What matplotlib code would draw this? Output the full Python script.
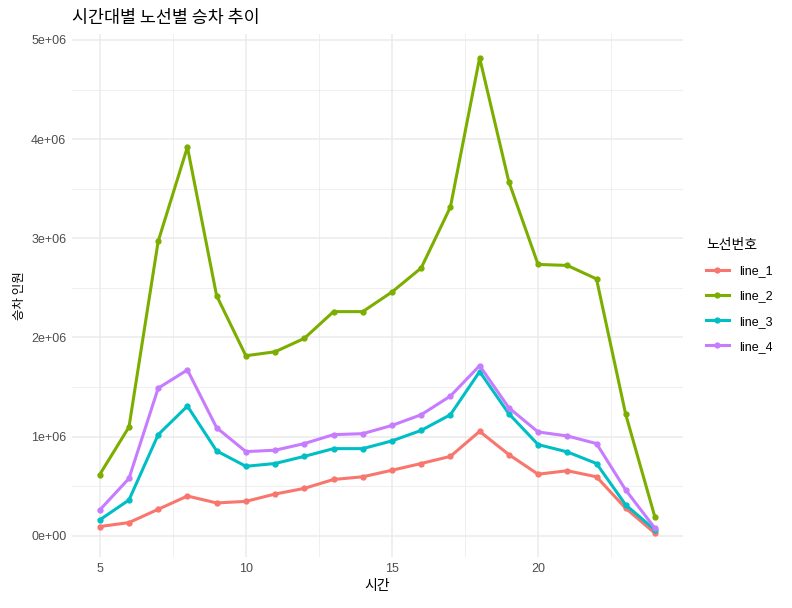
import matplotlib.pyplot as plt
from matplotlib.ticker import FixedLocator, FuncFormatter

plt.rcParams['font.family'] = ['Noto Sans CJK KR', 'DejaVu Sans']

hours = list(range(5, 25))
line_1 = [92000, 132000, 266000, 400000, 330000, 346000, 420000, 477000, 567000, 594000,
          660000, 728000, 800000, 1052000, 818000, 620000, 655000, 594000, 276000, 25000]
line_2 = [617000, 1096000, 2970000, 3920000, 2420000, 1815000, 1855000, 1990000, 2260000, 2260000,
          2458000, 2700000, 3315000, 4820000, 3570000, 2736000, 2726000, 2590000, 1223000, 186000]
line_3 = [159000, 360000, 1019000, 1307000, 855000, 700000, 728000, 800000, 878000, 878000,
          956000, 1062000, 1220000, 1655000, 1230000, 919000, 845000, 728000, 310000, 58000]
line_4 = [259000, 577000, 1488000, 1672000, 1089000, 848000, 862000, 929000, 1019000, 1029000,
          1112000, 1220000, 1408000, 1715000, 1290000, 1046000, 1006000, 929000, 460000, 75000]

names = ['line_1', 'line_2', 'line_3', 'line_4']
colors = ['#F8766D', '#7CAE00', '#00BFC4', '#C77CFF']
series = [line_1, line_2, line_3, line_4]

fig = plt.figure(figsize=(7.92, 6.08), dpi=100)
ax = fig.add_axes([0.0909, 0.0839, 0.862 - 0.0909, 0.944 - 0.0839])

for name, col, vals in zip(names, colors, series):
    ax.plot(hours, vals, color=col, linewidth=2.2, marker='o', markersize=3.5, label=name)

ax.set_xlim(4.05, 24.95)
ax.set_ylim(-0.215e6, 5.06e6)

ax.xaxis.set_major_locator(FixedLocator([5, 10, 15, 20]))
ax.xaxis.set_minor_locator(FixedLocator([7.5, 12.5, 17.5, 22.5]))
ax.yaxis.set_major_locator(FixedLocator([0, 1e6, 2e6, 3e6, 4e6, 5e6]))
ax.yaxis.set_minor_locator(FixedLocator([0.5e6, 1.5e6, 2.5e6, 3.5e6, 4.5e6]))
ax.yaxis.set_major_formatter(FuncFormatter(lambda v, p: '0e+00' if v == 0 else '%de+06' % round(v / 1e6)))

ax.grid(which='major', color='#ebebeb', linewidth=1.1)
ax.grid(which='minor', color='#ebebeb', linewidth=0.55)
ax.set_axisbelow(True)
for s in ax.spines.values():
    s.set_visible(False)
ax.tick_params(which='both', length=0, labelsize=9, labelcolor='#4d4d4d', pad=4)
for lab in ax.get_xticklabels() + ax.get_yticklabels():
    lab.set_family(['Liberation Sans', 'DejaVu Sans'])

ax.set_xlabel('시간', fontsize=10, labelpad=3)
ax.set_ylabel('승차 인원', fontsize=9, labelpad=4)
ax.set_title('시간대별 노선별 승차 추이', loc='left', fontsize=12.5, pad=8)

leg = ax.legend(title='노선번호', loc='center left', bbox_to_anchor=(1.02, 0.5),
                frameon=False, fontsize=9, title_fontsize=10, handlelength=1.8,
                labelspacing=1.05, alignment='left')
for t in leg.get_texts():
    t.set_family(['Liberation Sans', 'DejaVu Sans'])

fig.savefig('out.png', dpi=100)
